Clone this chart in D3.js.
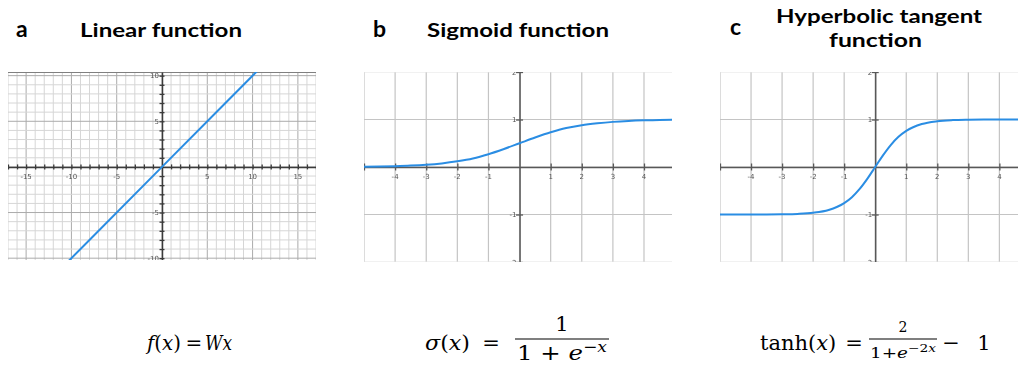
<!DOCTYPE html>
<html>
<head>
<meta charset="utf-8">
<script src="https://cdn.jsdelivr.net/npm/d3@7"></script>
<style>
  body { margin: 0; background: #fff; }
  svg { display: block; }
</style>
</head>
<body>
<svg id="chart" width="1018" height="365"></svg>
<script>
// ---- data ----
// a: linear function (identity, W = 1)
const linearX = [-12, 0, 12];
const linearY = [-12, 0, 12];
const linearXTicks = [-15, -10, -5, 5, 10, 15];
const linearYTicks = [-10, -5, 5, 10];

// b: sigmoid
const sigmoidX = [-5, -4.5, -4, -3.5, -3, -2.5, -2, -1.5, -1, -0.5, 0, 0.5, 1, 1.5, 2, 2.5, 3, 3.5, 4, 4.5, 5];
const sigmoidY = [0.007, 0.011, 0.018, 0.029, 0.047, 0.076, 0.12, 0.18, 0.27, 0.38, 0.5, 0.62, 0.73, 0.82, 0.88, 0.92, 0.95, 0.97, 0.982, 0.989, 0.993];

// c: hyperbolic tangent
const tanhX = [-5, -4.5, -4, -3.5, -3, -2.5, -2, -1.5, -1, -0.75, -0.5, -0.25, 0, 0.25, 0.5, 0.75, 1, 1.5, 2, 2.5, 3, 3.5, 4, 4.5, 5];
const tanhY = [-1, -1, -0.999, -0.998, -0.995, -0.987, -0.964, -0.905, -0.76, -0.635, -0.462, -0.245, 0, 0.245, 0.462, 0.635, 0.76, 0.905, 0.964, 0.987, 0.995, 0.998, 0.999, 1, 1];

const unitXTicks = [-4, -3, -2, -1, 1, 2, 3, 4];
const unitYTicks = [-2, -1, 1, 2];

const panelLetters = ["a", "b", "c"];
const panelTitles = [["Linear function"], ["Sigmoid function"], ["Hyperbolic tangent", "function"]];

// ---- layout ----
const svg = d3.select("#chart");
const defs = svg.append("defs");
const BLUE = "#2b8de3";
const TITLE_FONT = "Lato, 'Open Sans', sans-serif";
const MATH_FONT = "'DejaVu Serif', 'Liberation Serif', serif";
const TICK_FONT = "'DejaVu Sans', sans-serif";

// soft edge of the embedded plot images
defs.append("filter").attr("id", "soft")
  .append("feGaussianBlur").attr("stdDeviation", 0.3);

const panels = [
  { id: "lin", left: 8, right: 316, top: 72, bottom: 260, xd: [-17, 17], yd: [-10.2, 10.4],
    xs: linearX, ys: linearY, xt: linearXTicks, yt: linearYTicks, dense: true },
  { id: "sig", left: 364, right: 672, top: 72, bottom: 262, xd: [-5, 4.9], yd: [-2, 2],
    xs: sigmoidX, ys: sigmoidY, xt: unitXTicks, yt: unitYTicks, dense: false },
  { id: "tanh", left: 720, right: 1018, top: 72, bottom: 262, xd: [-5, 4.6], yd: [-2, 2],
    xs: tanhX, ys: tanhY, xt: unitXTicks, yt: unitYTicks, dense: false }
];

panels.forEach(p => {
  const x = d3.scaleLinear().domain(p.xd).range([p.left, p.right]);
  const y = d3.scaleLinear().domain(p.yd).range([p.bottom, p.top]);

  defs.append("clipPath").attr("id", "clip-" + p.id)
    .append("rect")
    .attr("x", p.left).attr("y", p.top)
    .attr("width", p.right - p.left).attr("height", p.bottom - p.top);

  const outer = svg.append("g").attr("filter", "url(#soft)");
  const g = outer.append("g").attr("clip-path", `url(#clip-${p.id})`);

  const xInts = d3.range(Math.ceil(p.xd[0]), Math.floor(p.xd[1]) + 1);
  const yInts = d3.range(Math.ceil(p.yd[0]), Math.floor(p.yd[1]) + 1);

  if (p.dense) {
    // fine grid every unit, heavier every 5 units
    g.selectAll("line.vx").data(xInts).join("line")
      .attr("x1", d => x(d)).attr("x2", d => x(d))
      .attr("y1", p.top).attr("y2", p.bottom)
      .attr("stroke", d => d % 5 === 0 ? "#ababab" : "#d6d6d6").attr("stroke-width", 1);
    g.selectAll("line.hy").data(yInts).join("line")
      .attr("y1", d => y(d)).attr("y2", d => y(d))
      .attr("x1", p.left).attr("x2", p.right)
      .attr("stroke", d => d % 5 === 0 ? "#ababab" : "#d6d6d6").attr("stroke-width", 1);
    g.append("line").attr("x1", p.left).attr("x2", p.right)
      .attr("y1", p.top + 0.5).attr("y2", p.top + 0.5)
      .attr("stroke", "#808080").attr("stroke-width", 1.2);
  } else {
    g.selectAll("line.vx").data(xInts).join("line")
      .attr("x1", d => x(d)).attr("x2", d => x(d))
      .attr("y1", p.top).attr("y2", p.bottom)
      .attr("stroke", "#c4c4c4").attr("stroke-width", 1.2);
    g.selectAll("line.hy").data(yInts).join("line")
      .attr("y1", d => y(d)).attr("y2", d => y(d))
      .attr("x1", p.left).attr("x2", p.right)
      .attr("stroke", d => Math.abs(d) === 2 ? "#e3e3e3" : "#c4c4c4").attr("stroke-width", 1.2);
  }

  // axes through the origin
  const tickLen = p.dense ? 2.5 : 3.5;
  const axisColor = p.dense ? "#3a3a3a" : "#585858";

  const xAxis = g.append("g").attr("transform", `translate(0,${y(0)})`)
    .call(d3.axisBottom(x).tickValues(xInts.filter(d => d !== 0)).tickSize(0).tickFormat(""));
  xAxis.select(".domain").attr("stroke", axisColor).attr("stroke-width", 1.5);
  xAxis.selectAll(".tick line").attr("y1", -tickLen).attr("y2", tickLen)
    .attr("stroke", axisColor).attr("stroke-width", 1.3);

  const yAxis = g.append("g").attr("transform", `translate(${x(0)},0)`)
    .call(d3.axisLeft(y).tickValues(yInts.filter(d => d !== 0)).tickSize(0).tickFormat(""));
  yAxis.select(".domain").attr("stroke", axisColor).attr("stroke-width", 1.5);
  yAxis.selectAll(".tick line").attr("x1", -tickLen).attr("x2", tickLen)
    .attr("stroke", axisColor).attr("stroke-width", 1.3);

  // tick labels
  g.selectAll("text.xl").data(p.xt).join("text")
    .attr("x", d => x(d)).attr("y", y(0) + 12)
    .attr("text-anchor", "middle")
    .attr("font-family", TICK_FONT).attr("font-size", 7).attr("fill", "#555")
    .text(d => d);
  g.selectAll("text.yl").data(p.yt).join("text")
    .attr("x", x(0) - 3).attr("y", d => y(d) + 2.5)
    .attr("text-anchor", "end")
    .attr("font-family", TICK_FONT).attr("font-size", 7).attr("fill", "#555")
    .text(d => d);

  // curve
  const pts = p.xs.map((v, i) => [v, p.ys[i]]);
  g.append("path").datum(pts)
    .attr("fill", "none").attr("stroke", BLUE).attr("stroke-width", 2)
    .attr("d", d3.line().x(d => x(d[0])).y(d => y(d[1])).curve(d3.curveMonotoneX));
});

// ---- panel letters and titles ----
const letterPos = [[16, 37], [373, 37], [730, 35]];
const titlePos = [
  [{ x: 80, y: 37, w: 162 }],
  [{ x: 427, y: 37, w: 182 }],
  [{ x: 776, y: 23, w: 206 }, { x: 829, y: 47, w: 93 }]
];

panelLetters.forEach((L, i) => {
  svg.append("text")
    .attr("x", letterPos[i][0]).attr("y", letterPos[i][1])
    .attr("font-family", TITLE_FONT).attr("font-weight", 700).attr("font-size", 23)
    .attr("fill", "#000").text(L);
  panelTitles[i].forEach((t, j) => {
    const pos = titlePos[i][j];
    svg.append("text")
      .attr("x", pos.x).attr("y", pos.y)
      .attr("font-family", TITLE_FONT).attr("font-weight", 700).attr("font-size", 19.5)
      .attr("textLength", pos.w).attr("lengthAdjust", "spacingAndGlyphs")
      .attr("fill", "#000").text(t);
  });
});

// ---- formulas ----
// parts: [text, italic?, baseline-shift, size factor]
function mathRun(parts, x, baseline, size, width, anchor) {
  const t = svg.append("text")
    .attr("font-family", MATH_FONT).attr("font-size", size).attr("fill", "#000")
    .attr("y", 0);
  parts.forEach(([s, it, sup, f]) => {
    t.append("tspan")
      .attr("font-style", it ? "italic" : "normal")
      .attr("font-size", size * (f || 1))
      .attr("baseline-shift", sup ? sup : null)
      .text(s);
  });
  const w = t.node().getComputedTextLength();
  const sx = width ? width / w : 1;
  const x0 = anchor === "middle" ? x - (width || w) / 2 : x;
  t.attr("transform", `translate(${x0},${baseline}) scale(${sx},1)`);
  return t;
}
function fracBar(x1, x2, yy) {
  svg.append("line").attr("x1", x1).attr("x2", x2).attr("y1", yy).attr("y2", yy)
    .attr("stroke", "#000").attr("stroke-width", 1.2);
}

// f(x) = Wx
mathRun([["f", true], ["(", false], ["x", true], [")", false]], 147, 350, 20, 34);
mathRun([["=", false]], 194, 350, 20, null, "middle");
mathRun([["W", true], ["x", true]], 205, 350, 20, 27);

// sigmoid
mathRun([["σ", true], ["(", false], ["x", true], [")", false]], 425, 350, 21, 45);
mathRun([["=", false]], 491, 350, 21, null, "middle");
fracBar(515, 609, 339);
mathRun([["1", false]], 562, 331, 21, null, "middle");
mathRun([["1 + ", false], ["e", true], ["−", false, "super", 0.7], ["x", true, "super", 0.7]],
  562, 360, 21, 90, "middle");

// tanh
mathRun([["tanh", false], ["(", false], ["x", true], [")", false]], 760, 350, 21, null);
mathRun([["=", false]], 854, 350, 21, null, "middle");
fracBar(869, 937, 339);
mathRun([["2", false]], 903, 332, 14, null, "middle");
mathRun([["1+", false], ["e", true], ["−2", false, "super", 0.75], ["x", true, "super", 0.75]],
  903, 358, 14, 66, "middle");
mathRun([["−", false]], 951, 350, 21, null, "middle");
mathRun([["1", false]], 984, 350, 21, null, "middle");
</script>
</body>
</html>
